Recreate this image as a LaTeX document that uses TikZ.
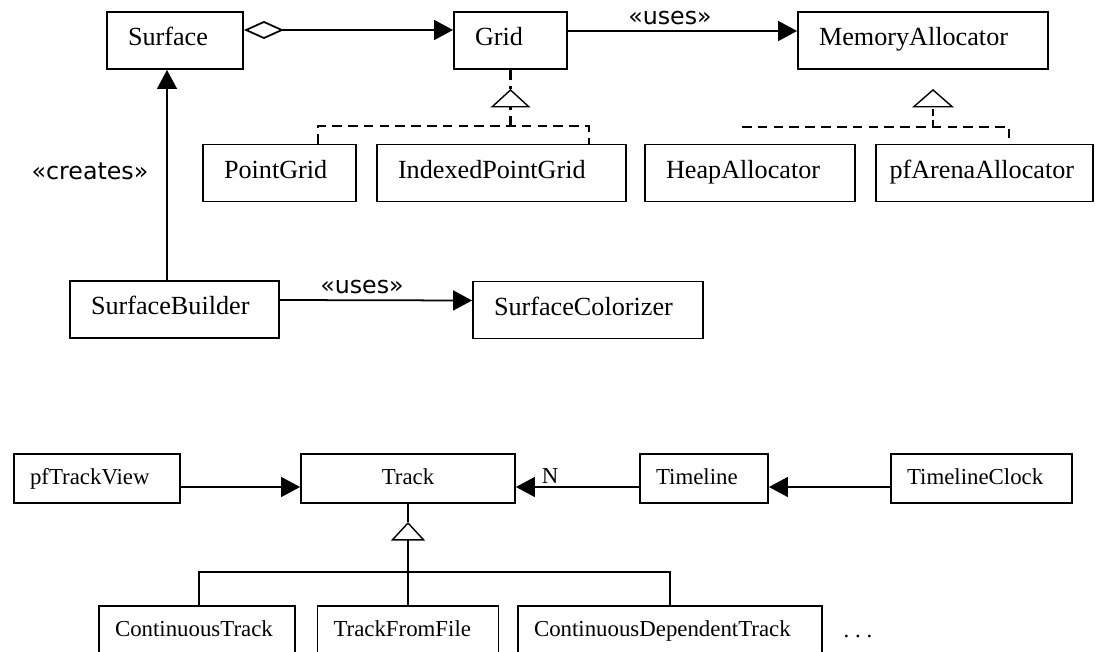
\documentclass[tikz,border=0pt]{standalone}
\usepackage{fontspec}
\setmainfont{Liberation Serif}
\newfontfamily\stereofont{DejaVu Sans}
\usetikzlibrary{arrows.meta}
\newcommand\bigcls{\fontsize{14.9}{17}\selectfont}
\newcommand\smallcls{\fontsize{13}{15}\selectfont}
\newcommand\stereo{\stereofont\fontsize{13.5}{15}\selectfont}
\tikzset{
  cls/.style={draw, line width=1.1pt, minimum height=1.14cm, text width=#1, align=left,
    inner xsep=0.42cm, inner ysep=0pt, text height=0.35cm, text depth=0.14cm, font=\bigcls},
  tcls/.style={draw, line width=1.1pt, minimum height=0.98cm, text width=#1, align=left,
    inner xsep=0.32cm, inner ysep=0pt, text height=0.3cm, text depth=0.06cm, font=\smallcls},
  assoc/.style={line width=1pt, -{Triangle[length=0.38cm,width=0.4cm]}},
  agg/.style={line width=1pt, {Diamond[open,length=0.8cm,width=0.36cm]}-{Triangle[length=0.38cm,width=0.4cm]}},
  realize/.style={line width=1.4pt, dash pattern=on 5.5pt off 3.5pt},
  inh/.style={line width=1pt, -{Triangle[open,length=0.37cm,width=#1,line width=0.8pt]}},
  inh/.default=0.8cm,
  stereotype/.style={font=\stereo, anchor=base, inner sep=0pt},
}
\begin{document}
\begin{tikzpicture}[x=0.02cm, y=-0.02cm]
\useasboundingbox (0,0) rectangle (1095,652);
\fill[white] (0,0) rectangle (1095,652);

% surface classes
\node[cls=1.88cm] (surface) at (175,40.5) {Surface};
\node[cls=1.42cm] (grid) at (510.5,40.5) {Grid};
\node[cls=4.16cm] (memalloc) at (923,40.5) {MemoryAllocator};

\node[cls=2.22cm] (pointgrid) at (279.5,173) {PointGrid};
\node[cls=4.14cm] (ipgrid) at (501.5,173) {IndexedPointGrid};
\node[cls=3.36cm] (heap) at (750,173) {HeapAllocator};
\node[cls=3.8cm, inner xsep=0.27cm] (arena) at (984.5,173) {pfArenaAllocator};

\node[cls=3.34cm] (builder) at (174.5,309.5) {SurfaceBuilder};
\node[cls=3.76cm] (colorizer) at (588,310) {SurfaceColorizer};

\draw[agg] ([yshift=0.21cm]surface.east) -- ([yshift=0.21cm]grid.west);
\draw[assoc] ([yshift=0.19cm]grid.east) -- ([yshift=0.19cm]memalloc.west);
\node[stereotype] (usesmem) at (670,25) {«uses»};

\draw[assoc] ([xshift=-0.15cm]builder.north) -- ([xshift=-0.16cm]surface.south);
\node[stereotype] (creates) at (90,179) {«creates»};

\draw[assoc] ([yshift=0.19cm]builder.east) -- ([yshift=0.19cm]colorizer.west);
\node[stereotype] (usescol) at (362,293) {«uses»};

% realizations
\coordinate (gridtip) at (510.5,89);
\coordinate (gridjoin) at (510.5,126);
\draw[realize] (grid.south) -- (gridtip);
\draw[inh, realize] (gridjoin) -- (gridtip);
\draw[realize] ([xshift=0.77cm]pointgrid.north) |- (gridjoin) -| ([xshift=1.75cm]ipgrid.north);

\coordinate (memtip) at (933,89);
\coordinate (memjoin) at (933,127);
\coordinate (heapend) at (742,127);
\draw[inh=0.84cm, line width=0.6pt, dash pattern=on 4pt off 2pt] (memjoin) -- (memtip);
\draw[realize] (heapend) -- (memjoin) -| ([xshift=0.49cm]arena.north);

% track classes
\node[tcls=2.68cm] (trackview) at (97,478.5) {pfTrackView};
\node[tcls=3.64cm, align=center] (track) at (408,478.5) {Track};
\node[tcls=1.92cm] (timeline) at (704,478.5) {Timeline};
\node[tcls=2.98cm] (clock) at (981.5,478.5) {TimelineClock};

\node[tcls=3.28cm] (ct) at (197,630.5) {ContinuousTrack};
\node[tcls=2.98cm] (tff) at (408,630.5) {TrackFromFile};
\node[tcls=5.44cm] (cdt) at (670,630.5) {ContinuousDependentTrack};
\node[anchor=base, font=\smallcls, inner sep=0pt] (more) at (858,637) {.\ .\ .};

\draw[assoc] ([yshift=-0.17cm]trackview.east) -- ([yshift=-0.17cm]track.west);
\draw[assoc] ([yshift=-0.17cm]timeline.west) -- ([yshift=-0.17cm]track.east);
\node[anchor=base, font=\smallcls, inner sep=0pt] (many) at (550,483) {N};
\draw[assoc] ([yshift=-0.17cm]clock.west) -- ([yshift=-0.17cm]timeline.east);

% generalization
\coordinate (tracktip) at (408,522);
\coordinate (trackjoin) at (408,572);
\draw[line width=1pt] (track.south) -- (tracktip);
\draw[inh=0.68cm] (tff.north) -- (tracktip);
\draw[line width=1pt] ([xshift=0.04cm]ct.north) |- (trackjoin) -| (cdt.north);
\end{tikzpicture}
\end{document}
